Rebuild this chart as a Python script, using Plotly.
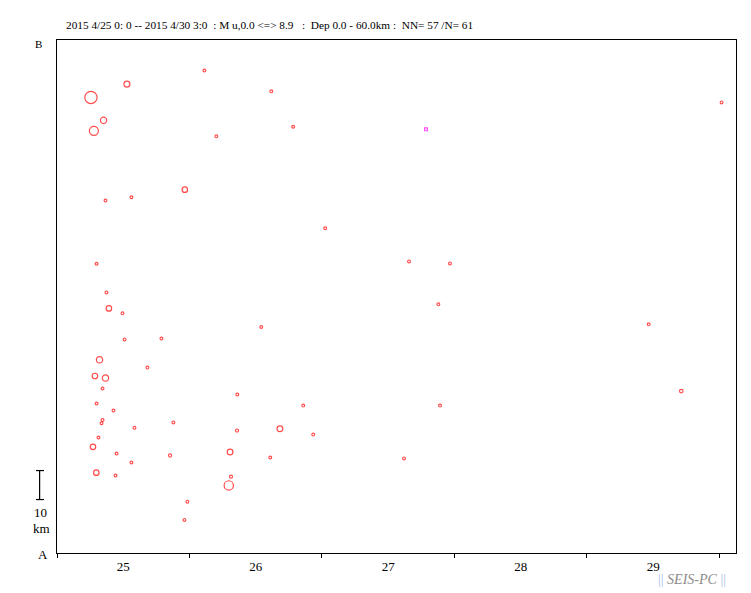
import plotly.graph_objects as go

# ---- data (time UTC, distance from A in km, magnitude) ----
times = [
    "2015-04-26 02:42", "2015-04-25 12:40", "2015-04-25 06:09", "2015-04-25 08:26",
    "2015-04-25 06:41", "2015-04-26 04:52", "2015-04-25 23:09", "2015-04-25 13:29",
    "2015-04-25 08:47", "2015-04-26 14:49", "2015-04-26 18:47", "2015-04-27 00:35",
    "2015-04-27 15:46", "2015-04-27 23:11", "2015-04-30 00:23", "2015-04-27 21:05",
    "2015-04-29 11:11", "2015-04-29 17:05", "2015-04-27 21:23", "2015-04-27 14:52",
    "2015-04-25 07:10", "2015-04-25 08:58", "2015-04-25 09:24", "2015-04-25 11:52",
    "2015-04-25 12:14", "2015-04-25 18:55", "2015-04-25 07:42", "2015-04-25 16:23",
    "2015-04-25 06:52", "2015-04-25 08:47", "2015-04-26 13:00", "2015-04-26 08:40",
    "2015-04-26 20:36", "2015-04-25 21:05", "2015-04-26 08:37", "2015-04-26 16:23",
    "2015-04-26 22:25", "2015-04-26 07:21", "2015-04-25 20:29", "2015-04-26 14:38",
    "2015-04-26 07:31", "2015-04-26 07:07", "2015-04-25 23:37", "2015-04-25 23:05",
    "2015-04-25 08:15", "2015-04-25 07:10", "2015-04-25 10:14", "2015-04-25 08:15",
    "2015-04-25 08:04", "2015-04-25 14:02", "2015-04-25 07:31", "2015-04-25 06:31",
    "2015-04-25 10:47", "2015-04-25 13:29", "2015-04-25 07:07", "2015-04-25 10:36",
]
dist_km = [
    166.3, 161.6, 157.0, 149.1, 145.5, 143.6, 125.2, 122.6,
    121.5, 159.1, 146.9, 111.9, 100.5, 99.8, 155.3, 85.7,
    78.8, 55.8, 50.8, 32.6, 99.7, 89.8, 84.3, 82.6,
    73.6, 73.9, 66.6, 63.9, 61.0, 60.3, 77.9, 54.6,
    50.8, 45.0, 42.2, 42.8, 40.8, 34.8, 33.6, 32.9,
    26.3, 23.3, 17.7, 11.4, 56.7, 51.5, 49.1, 45.8,
    44.7, 43.2, 39.8, 36.6, 34.3, 31.2, 27.7, 26.7,
]
mag = [
    4.3, 5.5, 7.8, 5.6, 6.6, 4.3, 5.3, 4.3,
    4.3, 4.3, 4.3, 4.3, 4.3, 4.3, 4.3, 4.3,
    4.3, 4.6, 4.3, 4.3, 4.3, 4.3, 5.3, 4.3,
    4.3, 4.3, 5.6, 4.3, 5.3, 5.6, 4.3, 4.3,
    4.3, 4.3, 4.4, 5.4, 4.3, 5.4, 4.4, 4.3,
    4.4, 6.7, 4.3, 4.3, 4.3, 4.3, 4.3, 4.3,
    4.3, 4.3, 4.3, 5.3, 4.3, 4.3, 5.3, 4.3,
]
# one event drawn in a different (magenta, square) class
other_times = ["2015-04-27 18:51"]
other_dist_km = [146.0]
other_mag = [4.3]

title_text = ("2015 4/25 0: 0 -- 2015 4/30 3:0 \u00a0: M u,0.0 &lt;=&gt; 8.9 \u00a0 : \u00a0"
              "Dep 0.0 - 60.0km : \u00a0NN= 57 /N= 61")
x_range = ["2015-04-25 00:00", "2015-04-30 03:00"]
y_max = 176.8

FONT = "Liberation Serif, Times New Roman, serif"


def msize(m):
    return max(2.8, 2.8 + (m - 4.3) * 2.7)


fig = go.Figure()
fig.add_trace(go.Scatter(
    x=times, y=dist_km, mode="markers",
    marker=dict(symbol="circle-open", size=[msize(m) for m in mag],
                color="#ff0000", line=dict(width=1.2, color="#ff0000")),
    hoverinfo="x+y", showlegend=False,
))
fig.add_trace(go.Scatter(
    x=other_times, y=other_dist_km, mode="markers",
    marker=dict(symbol="square-open", size=[msize(m) for m in other_mag],
                color="#ff00ff", line=dict(width=1.2, color="#ff00ff")),
    hoverinfo="x+y", showlegend=False,
))

fig.update_layout(
    width=751, height=593,
    margin=dict(l=57, r=15, t=40, b=40),
    paper_bgcolor="white", plot_bgcolor="white",
    font=dict(family=FONT, color="black", size=13),
    xaxis=dict(
        type="date", range=x_range, tick0="2015-04-25", dtick=86400000,
        tickformat="%d", ticklabelmode="period",
        ticks="outside", ticklen=4, tickwidth=1, tickcolor="black",
        ticklabelstandoff=-3,
        showline=True, linecolor="black", linewidth=1, mirror=True,
        showgrid=False, zeroline=False,
        tickfont=dict(family=FONT, size=13, color="black"),
    ),
    yaxis=dict(
        range=[0, y_max], showline=True, linecolor="black", linewidth=1,
        mirror=True, showgrid=False, zeroline=False, showticklabels=False,
        ticks="",
    ),
)

ann = [
    dict(text=title_text, x=0.0103, y=1.029, xanchor="left", yanchor="middle",
         font=dict(size=11.3)),
    dict(text="B", x=-0.0275, y=0.992, xanchor="center", yanchor="middle",
         font=dict(size=11)),
    dict(text="A", x=-0.020, y=-0.003, xanchor="center", yanchor="middle",
         font=dict(size=13)),
    dict(text="10", x=-0.0245, y=0.078, xanchor="center", yanchor="middle",
         font=dict(size=13)),
    dict(text="km", x=-0.0225, y=0.0487, xanchor="center", yanchor="middle",
         font=dict(size=13)),
    dict(text="<span style='color:#a9c1e6'>||</span> <i>SEIS-PC</i> "
              "<span style='color:#a9c1e6'>||</span>",
         x=0.9345, y=-0.052, xanchor="center", yanchor="middle",
         font=dict(size=14, color="#8c8c8c")),
]
for a in ann:
    a.update(xref="paper", yref="paper", showarrow=False)
fig.update_layout(annotations=ann)

# 10 km scale bar (left margin)
bar_x, cap_x0, cap_x1 = -0.0256, -0.0309, -0.0191
bar_y0, bar_y1 = 0.1042, 0.1607
line = dict(color="black", width=1.2)
fig.add_shape(type="line", xref="paper", yref="paper", x0=bar_x, x1=bar_x,
              y0=bar_y0, y1=bar_y1, line=line)
fig.add_shape(type="line", xref="paper", yref="paper", x0=cap_x0, x1=cap_x1,
              y0=bar_y0, y1=bar_y0, line=line)
fig.add_shape(type="line", xref="paper", yref="paper", x0=cap_x0, x1=cap_x1,
              y0=bar_y1, y1=bar_y1, line=line)

fig.write_html("out.html", config={"displayModeBar": False},
               post_script="document.body.style.margin='0';"
                           "document.body.style.overflow='hidden';")
